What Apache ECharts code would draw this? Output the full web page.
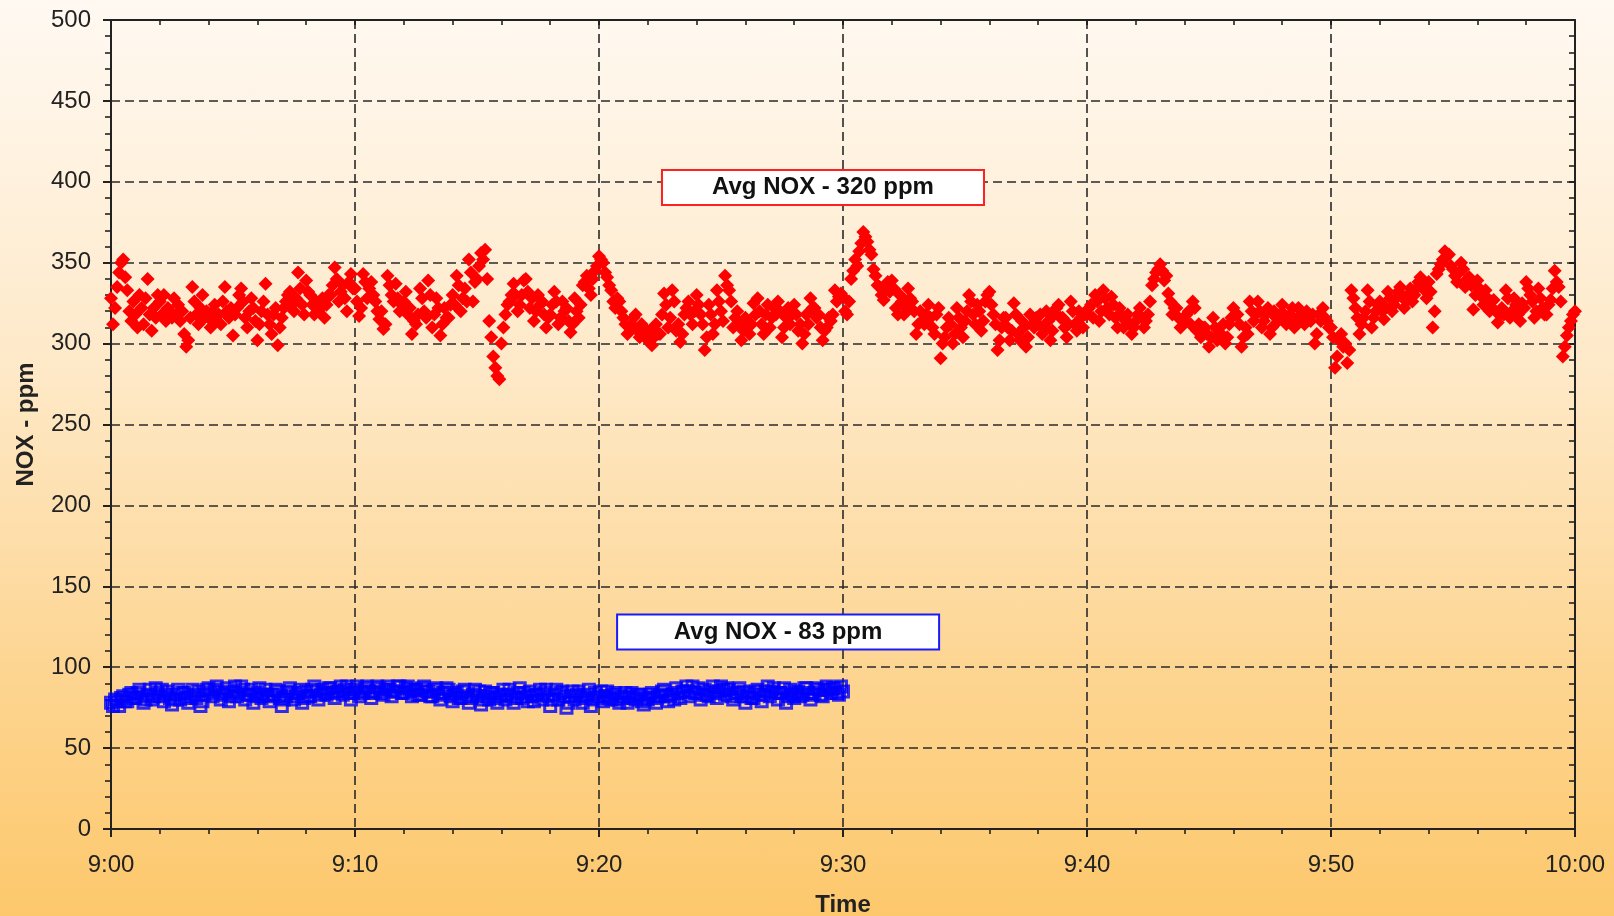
<!DOCTYPE html>
<html>
<head>
<meta charset="utf-8">
<script src="https://cdn.jsdelivr.net/npm/echarts@6/dist/echarts.min.js"></script>
<style>
html,body{margin:0;padding:0;}
#chart{width:1614px;height:916px;background:linear-gradient(to bottom,#fff9f2 0%,#fee9c8 40%,#fdd48f 75%,#fdc86c 100%);}
</style>
</head>
<body>
<div id="chart"></div>
<script>
// Sample step (minutes) between consecutive readings (5 s)
const stepMin = 1 / 12;
// Tick labels of the time axis
const timeLabels = ['9:00','9:10','9:20','9:30','9:40','9:50','10:00'];
// Red series (upper), readings every 5 s from 9:00 to 10:00 (one row per minute)
const redValues = [
328,312,322,335,344,350,352,341,333,320,314,326,
318,310,330,322,312,328,340,318,308,322,316,330,
326,318,330,314,322,320,316,328,318,324,314,320,
306,298,302,316,335,326,318,312,322,330,316,320,
316,310,320,324,314,318,312,326,335,320,316,322,
305,318,322,330,334,326,316,310,320,328,322,314,
302,312,320,326,337,318,312,306,318,322,299,310,
316,322,326,330,332,324,320,328,344,334,324,318,
339,332,330,324,318,326,320,322,328,316,324,330,
330,336,347,340,326,332,336,328,320,338,343,334,
334,326,317,322,343,338,328,334,338,330,326,320,
315,320,309,312,342,336,330,326,337,328,320,324,
326,332,318,322,306,314,312,318,334,328,320,316,
339,330,310,318,328,322,305,312,322,316,316,324,
330,324,342,336,320,328,334,326,352,344,326,338,
340,348,356,352,358,340,314,304,292,285,280,278,
300,310,318,324,326,330,337,330,320,324,330,339,
340,332,322,328,314,320,330,324,326,318,310,316,
318,324,332,326,312,316,326,320,322,314,307,312,
328,320,316,324,336,338,342,334,330,340,345,348,
354,352,350,344,341,336,333,326,322,328,326,320,
316,312,306,310,312,316,318,308,304,312,310,306,
302,308,299,304,312,306,306,318,331,324,310,316,
333,326,308,312,301,306,318,322,326,318,312,320,
330,324,318,312,296,304,324,318,306,312,333,326,
320,314,342,336,333,326,310,316,320,312,302,308,
316,310,306,312,325,318,328,320,312,306,318,324,
310,316,322,318,326,320,304,310,316,322,312,318,
324,318,308,312,300,306,318,312,328,322,322,316,
318,310,302,308,310,316,314,318,333,326,329,331,
329,320,318,326,340,345,352,348,357,362,369,366,
363,358,355,346,342,336,335,330,327,333,338,332,
339,334,322,318,330,326,318,322,334,328,326,320,
306,312,320,314,312,318,324,316,310,306,318,322,
291,300,304,310,316,312,300,306,322,316,310,304,
314,320,330,326,318,312,324,320,308,314,326,330,
332,324,318,312,296,302,310,316,316,310,302,308,
325,318,306,302,314,310,298,304,318,312,310,316,
312,318,306,310,320,314,302,308,318,322,324,316,
316,310,304,312,326,320,312,308,320,316,310,318,
318,322,324,316,330,326,314,320,333,328,322,318,
329,324,316,310,322,318,310,314,318,312,306,310,
314,318,322,316,310,314,318,326,336,340,344,346,
349,345,339,342,331,326,318,322,322,316,310,314,
314,318,320,312,326,322,308,312,304,310,310,306,
298,304,316,310,302,306,306,312,300,304,312,316,
322,318,318,312,298,304,310,306,326,320,314,318,
326,320,310,314,318,322,306,310,320,316,314,318,
324,318,312,316,318,322,310,314,322,318,316,312,
320,316,314,318,300,306,318,314,322,316,314,310,
310,304,285,292,302,306,298,300,288,296,333,328,
322,316,306,312,316,320,333,326,310,316,320,324,
326,320,315,322,332,328,320,324,328,332,335,330,
322,326,330,334,326,330,334,338,341,336,333,328,
338,332,310,320,343,346,349,352,357,354,355,348,
346,342,338,344,350,346,335,340,341,336,321,330,
339,334,329,324,333,328,320,326,327,320,313,318,
322,318,333,328,316,320,328,324,318,314,325,322,
338,334,330,326,316,320,334,328,322,318,318,324,
327,334,345,338,335,326,292,298,305,310,314,318,
320
];
// Blue series (lower), readings every 5 s from 9:00 to 9:30 (one row per minute)
const blueValues = [
78,76,80,79,76,81,82,79,79,83,84,81,
81,84,86,82,78,80,83,86,80,82,87,84,
82,86,79,83,85,81,77,80,83,86,80,84,
84,81,78,82,86,83,81,85,76,79,83,86,
87,84,82,86,88,85,80,83,84,87,79,82,
85,88,82,84,88,86,80,83,83,86,78,82,
84,87,81,83,86,82,79,83,83,86,85,81,
76,80,82,85,87,84,80,82,84,86,78,81,
85,82,82,86,88,85,80,83,86,84,83,87,
87,84,81,85,85,88,83,86,88,84,80,84,
86,88,82,85,84,87,88,85,81,84,85,88,
87,84,83,86,88,86,82,85,85,88,88,84,
84,87,88,85,82,86,86,83,83,87,88,85,
85,82,82,86,87,83,80,84,84,87,86,82,
79,83,84,81,81,85,86,82,78,81,83,86,
82,85,77,80,85,82,80,84,84,81,78,82,
83,86,80,83,86,82,78,81,84,87,81,84,
82,79,85,82,79,83,83,86,80,84,86,82,
76,80,83,86,80,84,85,82,75,78,82,85,
80,83,85,82,78,81,83,86,76,80,84,81,
82,85,79,82,85,81,80,83,84,80,78,82,
81,84,78,82,84,81,80,83,83,79,77,81,
80,83,84,81,78,82,82,85,86,83,79,82,
83,80,87,84,81,85,85,88,82,85,88,84,
84,87,80,83,86,83,82,85,88,84,81,85,
88,86,83,87,86,82,80,84,84,87,82,85,
78,82,84,81,81,85,86,83,79,83,85,88,
82,85,87,84,80,84,84,87,78,82,86,83,
81,84,85,82,83,87,87,84,80,83,84,87,
86,83,82,86,88,86,84,87,87,84,83,88,
85
];
// Annotation texts and their anchor (minutes, ppm)
const redNote = {text:'Avg NOX - 320 ppm', at:[29.18, 396.5]};
const blueNote = {text:'Avg NOX - 83 ppm', at:[27.34, 121.8]};

const redData = redValues.map((v,i)=>[i*stepMin, v]);
const blueData = blueValues.map((v,i)=>[i*stepMin, v]);

const axisColor = '#222';
const font = 'Liberation Sans, Arial';
const gridLine = {show:true, lineStyle:{color:'#2a2a2a', width:1.6, type:[9,5]}};
const noteLabel = (text, border) => ({
  show:true, position:'inside', formatter:text, color:'#111',
  fontFamily:font, fontWeight:'bold', fontSize:24,
  backgroundColor:'#ffffff', borderColor:border, borderWidth:2,
  width:320, height:33, lineHeight:33, align:'center', verticalAlign:'middle', padding:0
});

const chart = echarts.init(document.getElementById('chart'), null, {renderer:'canvas'});
chart.setOption({
  animation:false,
  backgroundColor:'transparent',
  grid:{left:111, right:39, top:20, bottom:87, containLabel:false, outerBoundsMode:'none'},
  xAxis:[{
    type:'value', min:0, max:60, interval:10,
    name:'Time', nameLocation:'middle', nameGap:64,
    nameTextStyle:{fontFamily:font, fontSize:24, fontWeight:'bold', color:'#222'},
    axisLine:{show:true, onZero:false, lineStyle:{color:axisColor, width:2}},
    axisTick:{show:true, length:8, lineStyle:{color:axisColor, width:2}},
    minorTick:{show:true, splitNumber:5, length:5, lineStyle:{color:axisColor, width:1.6}},
    axisLabel:{margin:24, fontFamily:font, fontSize:24, color:'#222',
      formatter:(v)=>timeLabels[Math.round(v/10)]},
    splitLine:gridLine
  },{
    type:'value', position:'top', min:0, max:60, interval:10,
    axisLine:{show:true, onZero:false, lineStyle:{color:axisColor, width:2}},
    axisTick:{show:true, inside:true, length:5, lineStyle:{color:axisColor, width:2}},
    minorTick:{show:true, splitNumber:5, length:5, lineStyle:{color:axisColor, width:1.6}},
    axisLabel:{show:false}, splitLine:{show:false}
  }],
  yAxis:[{
    type:'value', min:0, max:500, interval:50,
    name:'NOX - ppm', nameLocation:'middle', nameGap:73, nameRotate:90,
    nameTextStyle:{fontFamily:font, fontSize:24, fontWeight:'bold', color:'#222'},
    axisLine:{show:true, onZero:false, lineStyle:{color:axisColor, width:2}},
    axisTick:{show:true, length:8, lineStyle:{color:axisColor, width:2}},
    minorTick:{show:true, splitNumber:5, length:6, lineStyle:{color:axisColor, width:1.6}},
    axisLabel:{margin:20, fontFamily:font, fontSize:24, color:'#222'},
    splitLine:gridLine
  },{
    type:'value', position:'right', min:0, max:500, interval:50,
    axisLine:{show:true, onZero:false, lineStyle:{color:axisColor, width:2}},
    axisTick:{show:true, inside:true, length:6, lineStyle:{color:axisColor, width:2}},
    minorTick:{show:true, splitNumber:5, length:6, lineStyle:{color:axisColor, width:1.6}},
    axisLabel:{show:false}, splitLine:{show:false}
  }],
  series:[{
    type:'scatter', name:'NOX high', data:redData, large:false,
    symbol:'diamond', symbolSize:14,
    itemStyle:{color:'#ff0000', opacity:1},
    z:3,
    markPoint:{
      symbol:'circle', symbolSize:1, itemStyle:{color:'rgba(0,0,0,0)'},
      label:noteLabel(redNote.text, '#ff2020'),
      data:[{coord:redNote.at}]
    }
  },{
    type:'scatter', name:'NOX low', data:blueData, large:false,
    symbol:'rect', symbolSize:11,
    itemStyle:{color:'rgba(0,0,0,0)', borderColor:'#0000ff', borderWidth:3},
    z:2,
    markPoint:{
      symbol:'circle', symbolSize:1, itemStyle:{color:'rgba(0,0,0,0)'},
      label:noteLabel(blueNote.text, '#1a1aff'),
      data:[{coord:blueNote.at}]
    }
  }]
});
</script>
</body>
</html>
